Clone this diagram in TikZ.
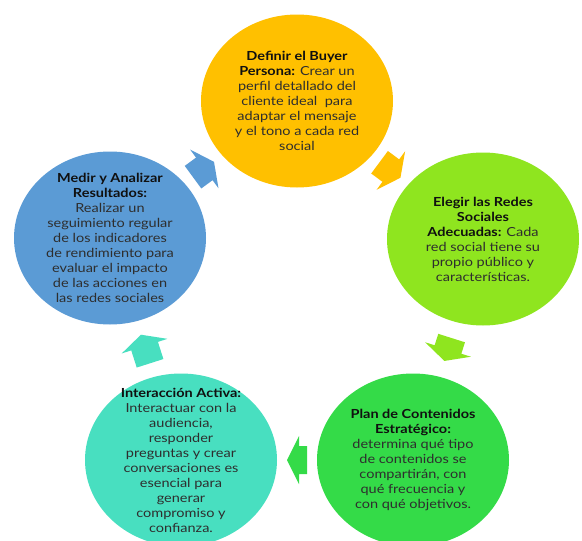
\documentclass[tikz,border=0pt]{standalone}
\usepackage{fontspec}
\setmainfont[FakeStretch=1.16]{Lato}
\usetikzlibrary{shapes.geometric,calc}
\definecolor{cyellow}{HTML}{FFC000}
\definecolor{clime}{HTML}{8FE51F}
\definecolor{cgreen}{HTML}{34DB48}
\definecolor{cteal}{HTML}{48DFC0}
\definecolor{cblue}{HTML}{5B9BD5}
\definecolor{ctext}{HTML}{2E2E2E}
\definecolor{ctitle}{HTML}{101010}
\newcommand{\ttl}[1]{\textbf{\color{ctitle}#1}}
\begin{document}
\begin{tikzpicture}[x=1pt,y=-1pt,
  blob/.style={ellipse, minimum width=192pt, minimum height=173pt, inner sep=0pt, draw=none},
  blobtext/.style={align=center, font=\fontsize{12.5}{15}\selectfont, text=ctext, inner sep=0pt}]
\useasboundingbox[fill=white] (0,0) rectangle (582,541);
\node[blob, fill=cyellow] (c1) at (297,101) {};
\node[blob, fill=clime]   (c2) at (483,239) {};
\node[blob, fill=cgreen]  (c3) at (413,460) {};
\node[blob, fill=cteal]   (c4) at (181,460) {};
\node[blob, fill=cblue]   (c5) at (110,238) {};
\node[blobtext] (t1) at (c1) {\ttl{Definir el Buyer}\\ \ttl{Persona:} Crear un\\ perfil detallado del\\ cliente ideal\ \ para\\ adaptar el mensaje\\ y el tono a cada red\\ social};
\node[blobtext] (t2) at (c2) {\ttl{Elegir las Redes}\\ \ttl{Sociales}\\ \ttl{Adecuadas:} Cada\\ red social tiene su\\ propio público y\\ características.};
\node[blobtext] (t3) at (c3) {\ttl{Plan de Contenidos}\\ \ttl{Estratégico:}\\ determina qué tipo\\ de contenidos se\\ compartirán, con\\ qué frecuencia y\\ con qué objetivos.};
\node[blobtext] (t4) at (c4) {\ttl{Interacción Activa:}\\ Interactuar con la\\ audiencia,\\ responder\\ preguntas y crear\\ conversaciones es\\ esencial para\\ generar\\ compromiso y\\ confianza.};
\node[blobtext] (t5) at (c5) {\ttl{Medir y Analizar}\\ \ttl{Resultados:}\\ Realizar un\\ seguimiento regular\\ de los indicadores\\ de rendimiento para\\ evaluar el impacto\\ de las acciones en\\ las redes sociales};
\foreach \a/\b/\col/\len in {c1/c2/cyellow/26, c2/c3/clime/24, c3/c4/cgreen/20, c4/c5/cteal/30, c5/c1/cblue/26}{
  \path let \p1=($(\b)-(\a)$), \n1={atan2(\y1,\x1)} in \pgfextra{\xdef\arrang{\n1}};
  \fill[\col, shift={($(\a)!0.5!(\b)$)}, rotate=\arrang]
    (-\len/2,-14) -- (\len/2-12,-14) -- (\len/2-12,-24) -- (\len/2,0)
    -- (\len/2-12,24) -- (\len/2-12,14) -- (-\len/2,14) -- cycle;
}
\end{tikzpicture}
\end{document}
